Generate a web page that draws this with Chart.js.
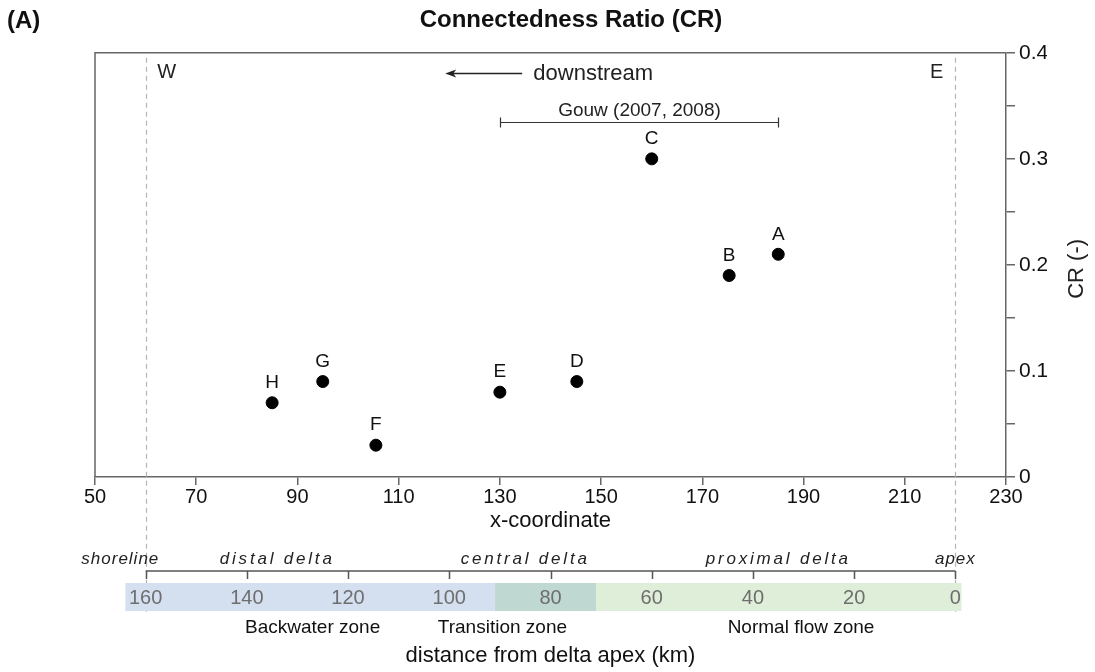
<!DOCTYPE html>
<html>
<head>
<meta charset="utf-8">
<script src="https://cdn.jsdelivr.net/npm/chart.js@4.4.0/dist/chart.umd.min.js"></script>
<style>
html, body { margin: 0; padding: 0; background: #fff; }
#wrap { width: 1095px; height: 672px; }
</style>
</head>
<body>
<div id="wrap"><canvas id="crChart" width="1095" height="672"></canvas></div>
<script>
// sites along the delta
var siteLabels = ['A', 'B', 'C', 'D', 'E', 'F', 'G', 'H'];
var siteX = [185, 175.3, 160, 145.2, 130, 105.5, 95, 85];
var siteCR = [0.21, 0.19, 0.30, 0.09, 0.08, 0.03, 0.09, 0.07];

var xTicks = [50, 70, 90, 110, 130, 150, 170, 190, 210, 230];
var kmTicks = [160, 140, 120, 100, 80, 60, 40, 20, 0];

var shoreX = 60;   // W, 160 km
var apexX = 220;   // E, 0 km

// Gouw (2007, 2008) range on x-coordinate
var gouwRange = [130, 185];

// reaches (km from apex where the label sits)
var reachNames = ['shoreline', 'distal delta', 'central delta', 'proximal delta', 'apex'];
var reachKm = [165, 134, 85, 35, 0];

// flow zones (km from apex)
var zoneNames = ['Backwater zone', 'Transition zone', 'Normal flow zone'];
var zoneFrom = [164, 91, 71];
var zoneTo = [91, 71, -1.2];
var zoneLabelKm = [127, 89.5, 30.5];
var zoneColors = ['#d4dff0', '#bfd8d1', '#dfeed9'];

var FONT = '"Liberation Sans", Arial, Helvetica, sans-serif';
Chart.defaults.font.family = FONT;

var extras = {
	id: 'extras',
	afterDraw: function(chart) {
		var ctx = chart.ctx;
		var a = chart.chartArea;
		var xs = chart.scales.x, ys = chart.scales.y;
		var kmPx = function(km) { return xs.getPixelForValue(apexX - km); };
		ctx.save();

		// panel letter
		ctx.fillStyle = '#111';
		ctx.font = 'bold 24px ' + FONT;
		ctx.textAlign = 'left';
		ctx.textBaseline = 'middle';
		ctx.fillText('(A)', 7, 21);

		// frame top and left
		ctx.strokeStyle = '#666';
		ctx.lineWidth = 1.5;
		ctx.beginPath();
		ctx.moveTo(a.left, a.bottom);
		ctx.lineTo(a.left, a.top);
		ctx.lineTo(a.right, a.top);
		ctx.stroke();

		// dashed shoreline / apex lines
		ctx.strokeStyle = '#b4b4b4';
		ctx.lineWidth = 1.2;
		ctx.setLineDash([5, 4]);
		[shoreX, apexX].forEach(function(v) {
			var px = Math.round(xs.getPixelForValue(v)) + 0.5;
			ctx.beginPath();
			ctx.moveTo(px, a.top + 5);
			ctx.lineTo(px, 612);
			ctx.stroke();
		});
		ctx.setLineDash([]);

		// W / E
		ctx.fillStyle = '#222';
		ctx.font = '20px ' + FONT;
		ctx.textBaseline = 'middle';
		ctx.textAlign = 'left';
		ctx.fillText('W', xs.getPixelForValue(62.3), ys.getPixelForValue(0.381));
		ctx.textAlign = 'right';
		ctx.fillText('E', xs.getPixelForValue(217.6), ys.getPixelForValue(0.381));

		// downstream arrow
		var ay = Math.round(ys.getPixelForValue(0.381)) + 0.5;
		var ax0 = xs.getPixelForValue(119.2), ax1 = xs.getPixelForValue(134.4);
		ctx.strokeStyle = '#222';
		ctx.lineWidth = 1.3;
		ctx.beginPath();
		ctx.moveTo(ax1, ay);
		ctx.lineTo(ax0 + 4, ay);
		ctx.stroke();
		ctx.beginPath();
		ctx.moveTo(ax0, ay);
		ctx.lineTo(ax0 + 11, ay - 4);
		ctx.lineTo(ax0 + 8, ay);
		ctx.lineTo(ax0 + 11, ay + 4);
		ctx.closePath();
		ctx.fill();
		ctx.textAlign = 'left';
		ctx.font = '22px ' + FONT;
		ctx.fillText('downstream', xs.getPixelForValue(136.6), ay);

		// Gouw range bar
		var gy = Math.round(ys.getPixelForValue(0.335)) + 0.5;
		var g0 = Math.round(xs.getPixelForValue(gouwRange[0])) + 0.5;
		var g1 = Math.round(xs.getPixelForValue(gouwRange[1])) + 0.5;
		ctx.lineWidth = 1.2;
		ctx.strokeStyle = '#333';
		ctx.beginPath();
		ctx.moveTo(g0, gy); ctx.lineTo(g1, gy);
		ctx.moveTo(g0, gy - 5); ctx.lineTo(g0, gy + 5);
		ctx.moveTo(g1, gy - 5); ctx.lineTo(g1, gy + 5);
		ctx.stroke();
		ctx.textAlign = 'center';
		ctx.font = '19px ' + FONT;
		ctx.fillText('Gouw (2007, 2008)', (g0 + g1) / 2, gy - 12);

		// site letters
		ctx.font = '19px ' + FONT;
		ctx.fillStyle = '#111';
		for (var i = 0; i < siteLabels.length; i++) {
			ctx.fillText(siteLabels[i], xs.getPixelForValue(siteX[i]), ys.getPixelForValue(siteCR[i]) - 20);
		}

		// y title, reading upward
		ctx.save();
		ctx.translate(1077, (a.top + a.bottom) / 2 + 4);
		ctx.rotate(-Math.PI / 2);
		ctx.font = '22px ' + FONT;
		ctx.fillStyle = '#222';
		ctx.fillText('CR (-)', 0, 0);
		ctx.restore();

		// reach names
		ctx.fillStyle = '#222';
		ctx.font = 'italic 17px ' + FONT;
		for (var r = 0; r < reachNames.length; r++) {
			ctx.letterSpacing = (r === 0 || r === reachNames.length - 1) ? '1px' : '2.8px';
			ctx.fillText(reachNames[r], kmPx(reachKm[r]), 559);
		}
		ctx.letterSpacing = '0px';

		// zone bands
		for (var z = 0; z < zoneNames.length; z++) {
			var zx0 = kmPx(zoneFrom[z]), zx1 = kmPx(zoneTo[z]);
			ctx.fillStyle = zoneColors[z];
			ctx.fillRect(zx0, 583, zx1 - zx0, 28);
		}

		// km axis
		var k0 = kmPx(kmTicks[0]), k1 = kmPx(kmTicks[kmTicks.length - 1]);
		ctx.strokeStyle = '#555';
		ctx.lineWidth = 1.5;
		ctx.beginPath();
		ctx.moveTo(k0, 571); ctx.lineTo(k1, 571);
		kmTicks.forEach(function(k) {
			var px = Math.round(kmPx(k)) + 0.5;
			ctx.moveTo(px, 571); ctx.lineTo(px, 579);
		});
		ctx.stroke();
		ctx.fillStyle = '#6e6e6e';
		ctx.font = '20px ' + FONT;
		kmTicks.forEach(function(k) {
			ctx.fillText(String(k), kmPx(k), 598);
		});

		// zone names
		ctx.fillStyle = '#111';
		ctx.font = '19px ' + FONT;
		for (var n = 0; n < zoneNames.length; n++) {
			ctx.fillText(zoneNames[n], kmPx(zoneLabelKm[n]), 628);
		}
		ctx.font = '22px ' + FONT;
		ctx.fillText('distance from delta apex (km)', (a.left + a.right) / 2, 656);

		ctx.restore();
	}
};

var points = siteX.map(function(x, i) { return { x: x, y: siteCR[i] }; });

new Chart(document.getElementById('crChart'), {
	type: 'scatter',
	data: {
		datasets: [{
			data: points,
			backgroundColor: '#000',
			borderColor: '#000',
			pointRadius: 6,
			pointHoverRadius: 6
		}]
	},
	options: {
		responsive: false,
		animation: false,
		events: [],
		layout: { padding: { left: 95, right: 48, top: 0, bottom: 138 } },
		plugins: {
			legend: { display: false },
			tooltip: { enabled: false },
			title: {
				display: true,
				text: 'Connectedness Ratio (CR)',
				color: '#111',
				font: { size: 24, weight: 'bold' },
				padding: { top: 6, bottom: 18 }
			}
		},
		scales: {
			x: {
				type: 'linear',
				min: 50,
				max: 230,
				afterBuildTicks: function(scale) {
					scale.ticks = xTicks.map(function(v) { return { value: v }; });
				},
				afterFit: function(scale) { scale.height = 57; },
				grid: { drawOnChartArea: false, tickLength: 8, color: '#666', lineWidth: 1.5 },
				border: { color: '#666', width: 1.5 },
				ticks: { color: '#111', font: { size: 20 }, padding: 0, maxRotation: 0 },
				title: { display: true, text: 'x-coordinate', color: '#111', font: { size: 22 }, padding: 0 }
			},
			y: {
				position: 'right',
				min: 0,
				max: 0.4,
				afterFit: function(scale) { scale.width = 41; },
				grid: { drawOnChartArea: false, tickLength: 9, color: '#666', lineWidth: 1.5 },
				border: { color: '#666', width: 1.5 },
				ticks: {
					stepSize: 0.05,
					color: '#111',
					font: { size: 21 },
					padding: 4,
					callback: function(v) {
						var t = Math.round(v * 100);
						return t % 10 === 0 ? String(t / 100) : '';
					}
				}
			}
		}
	},
	plugins: [extras]
});
</script>
</body>
</html>
